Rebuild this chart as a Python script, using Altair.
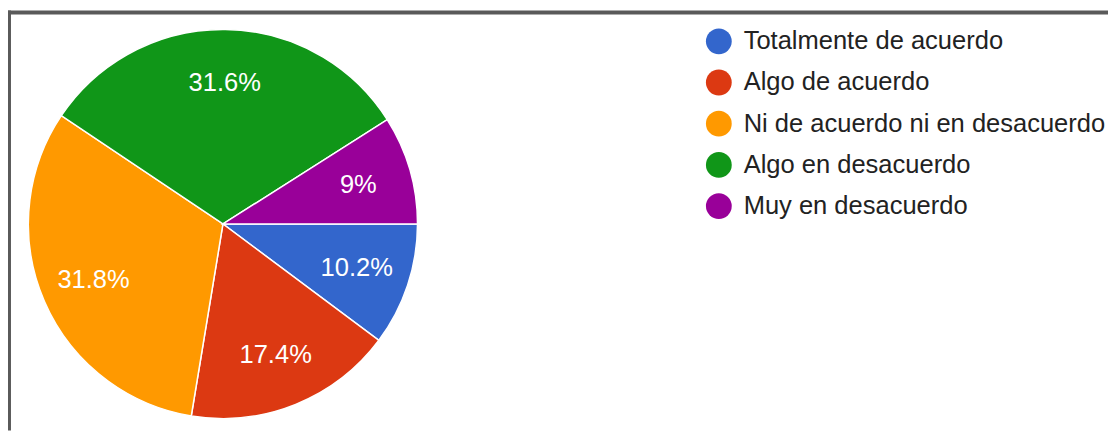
import math
import altair as alt
import pandas as pd

categories = [
    "Totalmente de acuerdo",
    "Algo de acuerdo",
    "Ni de acuerdo ni en desacuerdo",
    "Algo en desacuerdo",
    "Muy en desacuerdo",
]
values = [10.2, 17.4, 31.8, 31.6, 9.0]
labels = ["10.2%", "17.4%", "31.8%", "31.6%", "9%"]
colors = ["#3366cc", "#dc3912", "#ff9900", "#109618", "#990099"]

df = pd.DataFrame({
    "cat": categories,
    "value": values,
    "label": labels,
    "order": list(range(len(categories))),
})

FONT = "Liberation Sans"
W, H = 1108, 424
CX, CY = 216.5, 216

theta = alt.Theta("value:Q", stack=True,
                  scale=alt.Scale(range=[math.pi / 2, math.pi / 2 + 2 * math.pi]))
color = alt.Color(
    "cat:N",
    scale=alt.Scale(domain=categories, range=colors),
    legend=alt.Legend(
        title=None, orient="none", legendX=703, legendY=19,
        symbolType="circle", symbolSize=676, symbolStrokeWidth=0,
        labelFontSize=25.7, labelFont=FONT, labelColor="#222222",
        rowPadding=15.5, labelOffset=12, padding=0, labelLimit=600,
    ),
)

base = alt.Chart(df)

pie = base.mark_arc(outerRadius=196, stroke="white", strokeWidth=1.5).encode(
    theta=theta,
    color=color,
    order=alt.Order("order:Q"),
    x=alt.value(CX),
    y=alt.value(CY),
)

text = base.mark_text(radius=142, font=FONT, fontSize=25.7, color="white",
                      align="center", baseline="middle").encode(
    theta=theta,
    text="label:N",
    order=alt.Order("order:Q"),
    x=alt.value(CX),
    y=alt.value(CY),
)

one = alt.Data(values=[{}])
frame_top = alt.Chart(one).mark_rule(color="#5a5a5a", strokeWidth=4).encode(
    x=alt.value(0), x2=alt.value(W), y=alt.value(3)
)
frame_left = alt.Chart(one).mark_rule(color="#5a5a5a", strokeWidth=4).encode(
    x=alt.value(1), y=alt.value(1), y2=alt.value(H)
)

chart = alt.layer(frame_top, frame_left, pie, text).properties(
    width=W, height=H, autosize="none", padding=0
).configure_view(stroke=None)

chart.save("out.html", embed_options={"renderer": "svg", "actions": False})
